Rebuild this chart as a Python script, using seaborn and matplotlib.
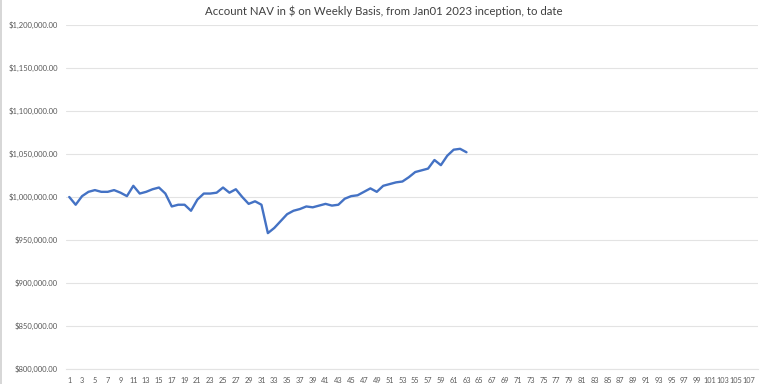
import numpy as np
import pandas as pd
import matplotlib
matplotlib.use('Agg')
import matplotlib.pyplot as plt
import seaborn as sns
from matplotlib.ticker import FuncFormatter

# weekly NAV readings (week number -> $)
weeks = list(range(1, 64))
nav = [
    1000000, 991000, 1001000, 1006000, 1008000, 1006000, 1006000, 1008000, 1005000, 1001000,
    1013000, 1004000, 1006000, 1009000, 1011000, 1004000, 989000, 991000, 991000, 984000,
    997000, 1004000, 1004000, 1005000, 1011000, 1005000, 1009000, 1000000, 992000, 995000,
    991000, 958000, 964000, 972000, 980000, 984000, 986000, 989000, 988000, 990000,
    992000, 990000, 991000, 998000, 1001000, 1002000, 1006000, 1010000, 1006000, 1013000,
    1015000, 1017000, 1018000, 1023000, 1029000, 1031000, 1033000, 1043000, 1037000, 1048000,
    1055000, 1056000, 1052000,
]
n_categories = 108
tick_weeks = list(range(1, n_categories, 2))
y_ticks = [800000, 850000, 900000, 950000, 1000000, 1050000, 1100000, 1150000, 1200000]

df = pd.DataFrame({"week": weeks, "nav": nav})

sns.set_style("white")
plt.rcParams['font.family'] = ['Lato', 'DejaVu Sans']

fig = plt.figure(figsize=(7.68, 3.84), dpi=100)
ax = fig.add_axes([0.086, 0.039, 0.901, 0.896])

sns.lineplot(data=df, x="week", y="nav", ax=ax, color="#4472C4", linewidth=1.7)

ax.set_xlim(0.5, n_categories + 0.5)
ax.set_ylim(y_ticks[0], y_ticks[-1])
ax.set_xticks(tick_weeks)
ax.set_xticklabels([str(w) for w in tick_weeks])
ax.set_yticks(y_ticks)
ax.yaxis.set_major_formatter(FuncFormatter(lambda v, _: f"${v:,.2f}"))

ax.grid(axis="y", color="#E3E3E3", linewidth=0.8)
ax.tick_params(axis="both", length=0, labelsize=5.5, colors="#595959", pad=6)
ax.tick_params(axis="x", labelsize=5.3)
for side in ["top", "right", "left"]:
    ax.spines[side].set_visible(False)
ax.spines["bottom"].set_color("#E3E3E3")
ax.spines["bottom"].set_linewidth(0.8)
ax.set_xlabel("")
ax.set_ylabel("")

fig.text(0.5, 0.972, "Account NAV in $ on Weekly Basis, from Jan01 2023 inception, to date",
         ha="center", va="center", fontsize=8.2, color="#404040")
fig.add_artist(plt.Line2D([0.001, 0.001], [0, 1], color="#D0D0D0", linewidth=1.2))

fig.savefig("out.png", dpi=100)
